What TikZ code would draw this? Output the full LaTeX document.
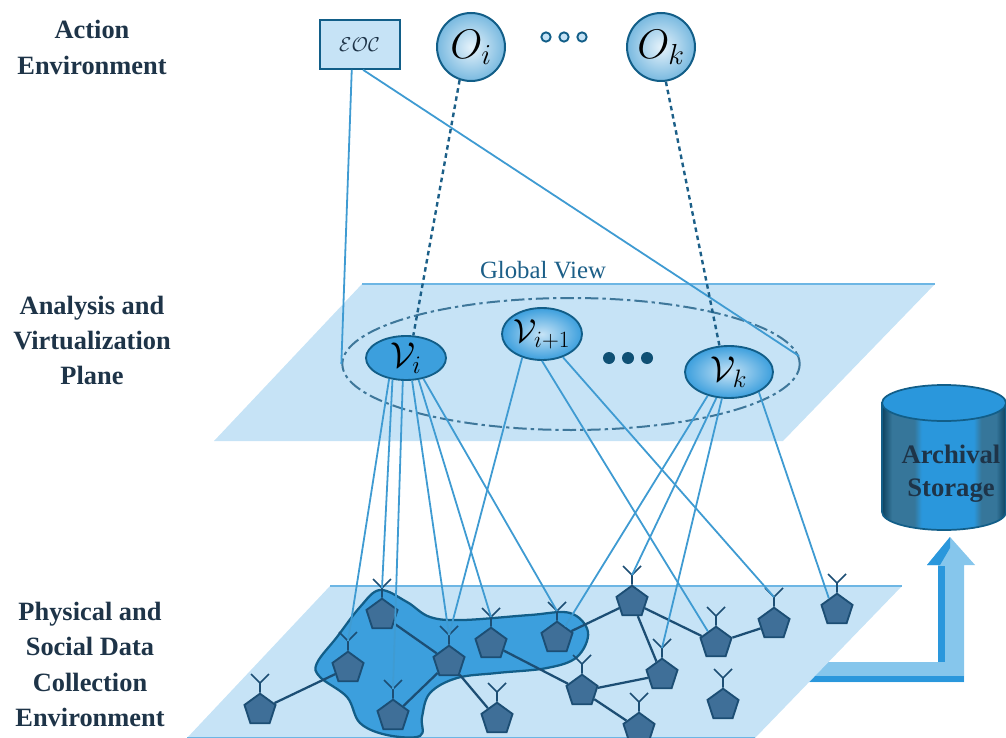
\documentclass[tikz,border=0pt]{standalone}
\usepackage{fix-cm}
\usepackage{fontspec}
\setmainfont{Liberation Serif}
\usetikzlibrary{shapes.geometric}
\definecolor{planefill}{HTML}{C6E3F6}
\definecolor{planeedge}{HTML}{6DB6E4}
\definecolor{blobfill}{HTML}{3C9FDD}
\definecolor{blobedge}{HTML}{125E88}
\definecolor{sensfill}{HTML}{3F6F98}
\definecolor{sensedge}{HTML}{1C4E74}
\definecolor{wire}{HTML}{3F9BD2}
\definecolor{darkwire}{HTML}{1C5F88}
\definecolor{inktext}{HTML}{1E3448}
\definecolor{arrowlight}{HTML}{86C6EC}
\definecolor{arrowdark}{HTML}{2A97DC}
\pgfdeclarehorizontalshading{cylshade}{100bp}{
  color(0bp)=(blobedge!70!black);
  color(25bp)=(blobedge!70!black);
  color(29bp)=(blobedge!85!white);
  color(38bp)=(blobedge!85!white);
  color(41bp)=(arrowdark);
  color(62bp)=(arrowdark);
  color(65bp)=(blobedge!85!white);
  color(71bp)=(blobedge!85!white);
  color(75bp)=(blobedge!70!black);
  color(100bp)=(blobedge!70!black)}
\tikzset{
  plane/.style={fill=planefill,draw=none},
  planetop/.style={draw=planeedge,line width=1.2pt},
  sensor/.style={regular polygon,regular polygon sides=5,minimum size=24.5pt,inner sep=0pt,fill=sensfill,draw=sensedge,line width=1.4pt},
  stem/.style={draw=sensedge,line width=1.3pt},
  link/.style={draw=sensedge,line width=1.7pt},
  wireline/.style={draw=wire,line width=1.35pt},
  dashline/.style={draw=darkwire,line width=1.8pt,dash pattern=on 3.4pt off 2.8pt},
  obs/.style={circle,minimum size=51pt,inner sep=0pt,draw=blobedge,line width=1.5pt,inner color=planefill!45!white,outer color=wire!70!white},
  virt/.style={ellipse,inner sep=0pt,draw=blobedge,line width=1.4pt},
  ldot/.style={circle,minimum size=7pt,inner sep=0pt,draw=blobedge,line width=1.4pt,fill=planefill},
  ddot/.style={circle,minimum size=9pt,inner sep=0pt,fill=blobedge!85!black},
  side/.style={align=center,font=\bfseries\fontsize{19.8}{26.6}\selectfont,text=inktext}
}
\begin{document}
\begin{tikzpicture}[x=0.75pt,y=-0.75pt]
\useasboundingbox (0,0) rectangle (1006,738);
% big arrow
\fill[arrowlight] (780,662) -- (938,662) -- (938,565) -- (927,565) -- (950,537) -- (975,565) -- (964,565) -- (964,682) -- (780,682) -- cycle;
\fill[arrowdark] (780,676) -- (964,676) -- (964,682) -- (780,682) -- cycle;
\fill[arrowdark] (938,662) -- (938,566) -- (945,566) -- (945,662) -- cycle;
\fill[arrowdark] (950,537) -- (927,565) -- (940,565) -- (950,548) -- cycle;
% bottom plane
\fill[plane] (330,586) -- (902,586) -- (755,738) -- (187,738) -- cycle;
\draw[planetop] (330,586) -- (902,586);
\draw[planetop] (187,737.4) -- (755,737.4);
% blob
\draw[fill=blobfill,draw=blobedge,line width=1.7pt] plot[smooth cycle,tension=0.6] coordinates {
 (380,590) (407,602) (430,617) (463,620) (530,615) (570,613) (588,632) (577,657)
 (547,668) (497,673) (457,678) (430,693) (422,717) (420,736) (387,735) (360,723)
 (347,697) (320,677) (317,663) (337,637) (360,607)};
% middle plane
\fill[plane] (362,284) -- (935,284) -- (783,441) -- (214,441) -- cycle;
\draw[planetop] (362,284) -- (935,284);
% cylinder
\path[shading=cylshade,draw=blobedge,line width=1.3pt] (882,403) -- (882,512) arc[start angle=180,end angle=0,x radius=62,y radius=18] -- (1006,403) -- cycle;
\draw[fill=arrowdark,draw=blobedge,line width=1.3pt] (944,403) ellipse[x radius=62,y radius=18];
\node[font=\bfseries\fontsize{20}{25}\selectfont,text=inktext,align=center] (arch) at (951,474) {Archival\\Storage};
% sensors
\foreach \n/\x/\y in {1/260/710,2/382/615,3/348/668,4/393/716,5/449/662,6/491/644,7/557/638,8/497/719,9/582/691,10/632/602,11/716/643,12/774/624,13/837/610,14/662/675,15/723/705,16/639/729}{
  \coordinate (a\n) at (\x,\y-27);
  \node[sensor] (s\n) at (\x,\y) {};
  \draw[stem] (s\n.north) -- (a\n) -- +(-9,-9) (a\n) -- +(9,-9);
}
\foreach \p/\q in {1/3,2/5,5/4,5/8,6/9,7/10,10/11,11/12,10/14,14/9,9/16}{
  \draw[link] (s\p) -- (s\q);
}
% top row
\node[draw=blobedge,line width=1.5pt,fill=planefill,minimum width=60pt,minimum height=36.5pt,inner sep=0pt,text=inktext] (eoc) at (359.5,44.5) {\fontsize{15}{15}\selectfont$\mathcal{EOC}$};
\node[obs] (oi) at (471,47) {\fontsize{31}{31}\selectfont$O_{i}$};
\node[obs] (ok) at (661,47) {\fontsize{31}{31}\selectfont$O_{k}$};
\node[ldot] (d1) at (546,37) {};
\node[ldot] (d2) at (564,37) {};
\node[ldot] (d3) at (582,37) {};
% view plane
\node[text=darkwire,font=\fontsize{18.6}{20}\selectfont] (gvl) at (543,270) {Global View};
\node[ellipse,minimum width=343pt,minimum height=99pt,inner sep=0pt,draw=darkwire!85!white,line width=1.5pt,dash pattern=on 10pt off 3pt on 2.5pt off 3pt] (gv) at (571,364) {};
\node[virt,minimum width=60pt,minimum height=33pt,fill=blobfill] (vi) at (406,358) {\fontsize{27}{27}\selectfont$\mathcal{V}_{i}$};
\node[virt,minimum width=60pt,minimum height=39pt,inner color=planefill,outer color=blobfill] (vj) at (542,334) {\fontsize{25}{25}\selectfont$\mathcal{V}_{i+1}$};
\node[virt,minimum width=66pt,minimum height=39pt,inner color=planefill,outer color=blobfill] (vk) at (729,372) {\fontsize{27}{27}\selectfont$\mathcal{V}_{k}$};
\node[ddot] (e1) at (609,358) {};
\node[ddot] (e2) at (628,358) {};
\node[ddot] (e3) at (647,358) {};
% connectors
\draw[wireline] (eoc.253) -- (gv.180);
\draw[wireline] (eoc.278) -- (gv.2);
\draw[dashline] (oi.251) -- (vi.72);
\draw[dashline] (ok.278) -- (vk.110);
\draw[wireline] (vi.231) -- (a3);
\draw[wireline] (vi.238) -- (a2);
\draw[wireline] (vi.262) -- (a4);
\draw[wireline] (vi.285) -- (a5);
\draw[wireline] (vi.300) -- (a6);
\draw[wireline] (vi.310) -- (a7);
\draw[wireline] (vj.230) -- (a5);
\draw[wireline] (vj.270) -- (s11.125);
\draw[wireline] (vj.312) -- (a12);
\draw[wireline] (vk.228) -- (s7.55);
\draw[wireline] (vk.244) -- (a10);
\draw[wireline] (vk.255) -- (a14);
\draw[wireline] (vk.326) -- (s13.125);
% side labels
\node[side] (l1) at (92,47.5) {Action\\Environment};
\node[side] (l2) at (92,340.5) {Analysis and\\Virtualization\\Plane};
\node[side] (l3) at (90,664.5) {Physical and\\Social Data\\Collection\\Environment};
\end{tikzpicture}
\end{document}
